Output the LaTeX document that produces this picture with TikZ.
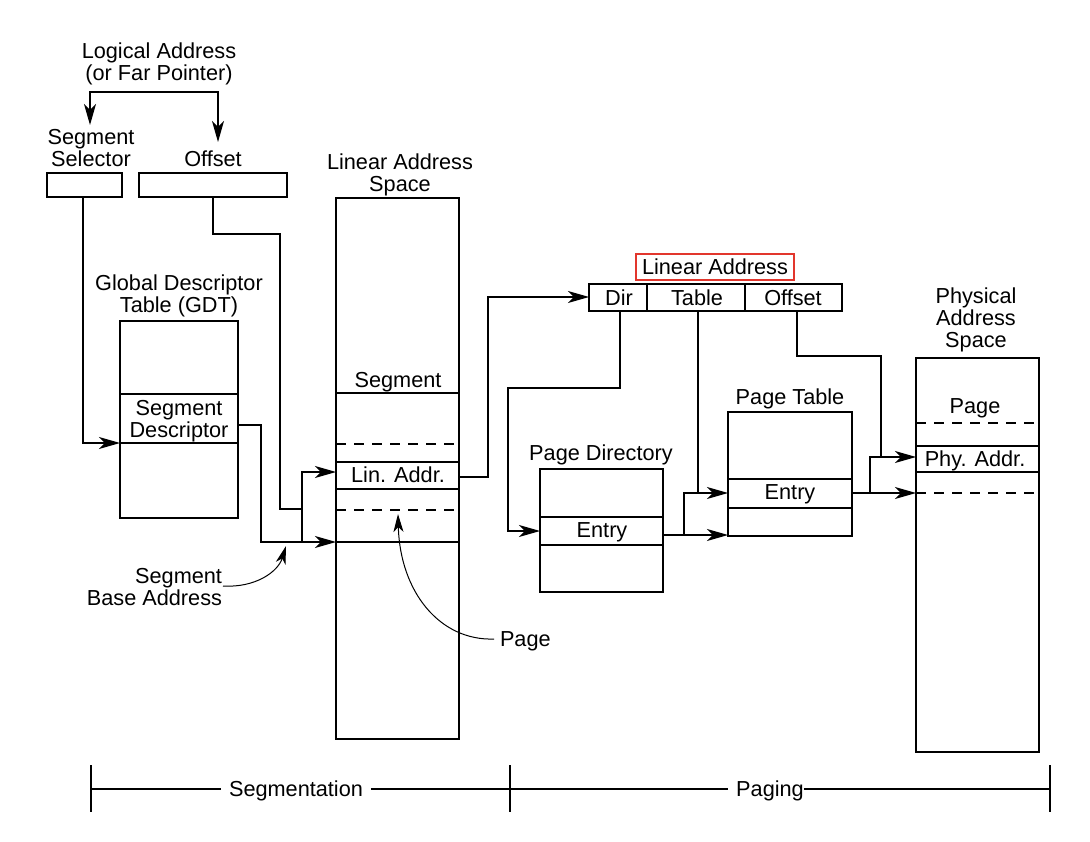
\documentclass[tikz,border=0pt]{standalone}
\usepackage{fontspec}
\setmainfont{Liberation Sans}
\usetikzlibrary{arrows.meta,calc}
\definecolor{markred}{RGB}{226,54,45}
\begin{document}
\begin{tikzpicture}[x=1pt,y=-1pt,
  every node/.style={font=\fontsize{21.7}{22}\selectfont, inner sep=0pt, outer sep=0pt},
  lbl/.style={align=center},
  one/.style={text height=15.5pt, text depth=0pt},
  cell/.style={draw, line width=1.3pt, anchor=north west},
  rule/.style={line width=1.3pt},
  dashrule/.style={line width=1.3pt, dash pattern=on 10pt off 8pt},
  link/.style={line width=1.3pt},
  curvelink/.style={line width=1pt},
  >={Stealth[length=21pt,width=12pt,inset=6pt]},
  smalltip/.tip={Stealth[length=18pt,width=10pt,inset=5pt]}
]
\useasboundingbox (0,0) rectangle (1090,842);

% ---------- boxes ----------
\node[cell, minimum width=75pt,  minimum height=24pt]  (selbox) at (47,173) {};
\node[cell, minimum width=148pt, minimum height=24pt]  (offbox) at (139,173) {};
\node[cell, minimum width=118pt, minimum height=197pt] (gdt)    at (120,321) {};
\node[cell, minimum width=123pt, minimum height=541pt] (las)    at (336,198) {};
\node[cell, minimum width=253pt, minimum height=27pt]  (labox)  at (589,284) {};
\node[cell, minimum width=123pt, minimum height=123pt] (pd)     at (540,469) {};
\node[cell, minimum width=124pt, minimum height=124pt] (pt)     at (728,412) {};
\node[cell, minimum width=123pt, minimum height=394pt] (phys)   at (916,358) {};

% rows inside the tables
\foreach \y in {394,443} \draw[rule] (gdt.west |- 0,\y) -- (gdt.east |- 0,\y);
\foreach \y in {393,462,489,542} \draw[rule] (las.west |- 0,\y) -- (las.east |- 0,\y);
\foreach \y in {444,510} \draw[dashrule] (las.west |- 0,\y) -- (las.east |- 0,\y);
\foreach \x in {647,745} \draw[rule] (\x,0 |- labox.north) -- (\x,0 |- labox.south);
\foreach \y in {517,545} \draw[rule] (pd.west |- 0,\y) -- (pd.east |- 0,\y);
\foreach \y in {479,508} \draw[rule] (pt.west |- 0,\y) -- (pt.east |- 0,\y);
\foreach \y in {446,472} \draw[rule] (phys.west |- 0,\y) -- (phys.east |- 0,\y);
\foreach \y in {423,493} \draw[dashrule] (phys.west |- 0,\y) -- (phys.east |- 0,\y);

% ---------- labels ----------
\node[lbl] (tLogical) at (159,64)  {Logical Address\\(or Far Pointer)};
\node[lbl] (tSel)     at (91,148)  {Segment\\Selector};
\node[one] (tOff)     at (213,159) {Offset};
\node[lbl] (tLAS)     at (400,175) {Linear Address\\Space};
\node[lbl] (tGDT)     at (179,296) {Global Descriptor\\Table (GDT)};
\node[one] (tSegment) at (398,380) {Segment};
\node[lbl] (tDesc)    at (179,421) {Segment\\Descriptor};
\node[one] (tLin)     at (398,475) {Lin. Addr.};
\node[align=right, anchor=east] (tBase) at (222,587) {Segment\\Base Address};
\node[one, anchor=west] (tPage) at (500,639) {Page};
\node[draw=markred, line width=2.4pt, minimum width=158pt, minimum height=26pt]
      (tLA) at (715,267) {Linear Address};
\node[one] (tDir)     at (619,298) {Dir};
\node[one] (tTable)   at (697,298) {Table};
\node[one] (tOffset)  at (793,298) {Offset};
\node[one] (tPD)      at (601,453) {Page Directory};
\node[one] (tPDE)     at (602,530) {Entry};
\node[one] (tPT)      at (790,397) {Page Table};
\node[one] (tPTE)     at (790,492) {Entry};
\node[lbl] (tPhys)    at (976,320) {Physical\\Address\\Space};
\node[one] (tPPage)   at (975,406) {Page};
\node[one] (tPhy)     at (975,459) {Phy. Addr.};
\node[one] (tSegm)    at (296,789) {Segmentation};
\node[one] (tPaging)  at (770,789) {Paging};

% ---------- connectors ----------
% logical address split into selector and offset
\coordinate (brL) at (90,125);
\coordinate (brTop) at (154,92);
\coordinate (brR) at (218,142);
\draw[link,<->] (brL) |- (brTop) -| (brR);

% selector indexes the GDT
\draw[link,->] (selbox.south -| 83,0) |- (gdt.west |- 0,443);
% offset and segment base summed into the linear address
\draw[link] (offbox.south -| 213,0) |- (280,234) |- (302,509);
\draw[link,->] (gdt.east |- 0,425) -| (261,542) -- (las.west |- 0,542);
\draw[link,->] (302,542) |- (las.west |- 0,472);
% linear address feeds the paging unit
\draw[link,->] (las.east |- 0,477) -| (488,297) -- (labox.west |- 0,297);
% directory field
\draw[link,->] (labox.south -| 620,0) |- (508,388) |- (pd.west |- 0,531);
% table field
\draw[link] (labox.south -| 698,0) -- (698,493);
\draw[link,->] (pd.east |- 0,535) -- (pt.west |- 0,535);
\draw[link,->] (684,535) |- (pt.west |- 0,493);
% offset field
\draw[link] (labox.south -| 797,0) |- (881,356) -- (881,457);
\draw[link,->] (pt.east |- 0,493) -- (phys.west |- 0,493);
\draw[link,->] (870,493) |- (phys.west |- 0,457);

% callouts
\draw[curvelink,-smalltip] ([xshift=-6pt]tPage.west) .. controls (440,641) and (400,592) .. (398,514);
\draw[curvelink,-smalltip] ([xshift=1pt,yshift=1pt]tBase.east) .. controls (255,588) and (278,572) .. (286,546);

% ---------- bottom scale ----------
\foreach \x in {91,510,1050} \draw[rule] (\x,765) -- (\x,812);
\draw[rule] (91,789) -- ([xshift=-8pt]tSegm.west);
\draw[rule] ([xshift=8pt]tSegm.east) -- ([xshift=-8pt]tPaging.west);
\draw[rule] (tPaging.east) -- (1050,789);
\end{tikzpicture}
\end{document}
